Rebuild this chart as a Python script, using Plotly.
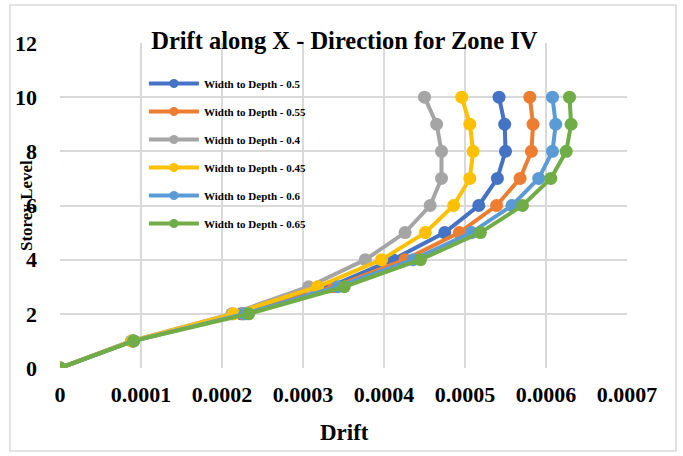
import plotly.graph_objects as go

# Storey levels (0 = base, 10 = roof)
storey_levels = [0, 1, 2, 3, 4, 5, 6, 7, 8, 9, 10]

# Storey drift for each width-to-depth ratio
drift_wd_050 = [0, 0.000090, 0.000224, 0.000333, 0.000411, 0.000475, 0.000517, 0.000540, 0.000550, 0.000549, 0.000542]
drift_wd_055 = [0, 0.000090, 0.000226, 0.000338, 0.000426, 0.000493, 0.000539, 0.000568, 0.000582, 0.000584, 0.000580]
drift_wd_040 = [0, 0.000088, 0.000212, 0.000307, 0.000377, 0.000426, 0.000457, 0.000471, 0.000471, 0.000465, 0.000450]
drift_wd_045 = [0, 0.000089, 0.000214, 0.000318, 0.000397, 0.000451, 0.000486, 0.000506, 0.000510, 0.000506, 0.000496]
drift_wd_060 = [0, 0.000091, 0.000228, 0.000343, 0.000436, 0.000508, 0.000558, 0.000591, 0.000608, 0.000612, 0.000608]
drift_wd_065 = [0, 0.000091, 0.000233, 0.000351, 0.000445, 0.000519, 0.000571, 0.000606, 0.000625, 0.000631, 0.000629]

series_names = [
    "Width to Depth - 0.5",
    "Width to Depth - 0.55",
    "Width to Depth - 0.4",
    "Width to Depth - 0.45",
    "Width to Depth - 0.6",
    "Width to Depth - 0.65",
]
series_values = [drift_wd_050, drift_wd_055, drift_wd_040, drift_wd_045, drift_wd_060, drift_wd_065]
series_colors = ["#4472C4", "#ED7D31", "#A5A5A5", "#FFC000", "#5B9BD5", "#70AD47"]

x_ticks = [0, 0.0001, 0.0002, 0.0003, 0.0004, 0.0005, 0.0006, 0.0007]
x_tick_text = ["0", "0.0001", "0.0002", "0.0003", "0.0004", "0.0005", "0.0006", "0.0007"]
y_ticks = [0, 2, 4, 6, 8, 10, 12]

SERIF = "Liberation Serif"
GRID = "#D9D9D9"

fig = go.Figure()
for i, (name, vals, col) in enumerate(zip(series_names, series_values, series_colors)):
    # plotted series
    fig.add_trace(go.Scatter(
        x=vals, y=storey_levels, name=name, mode="lines+markers",
        line=dict(color=col, width=4),
        marker=dict(color=col, size=13),
        legendgroup=f"g{i}", showlegend=False,
    ))
    # legend key with smaller marker
    fig.add_trace(go.Scatter(
        x=[None], y=[None], name=f"<b>{name}</b>", mode="lines+markers",
        line=dict(color=col, width=4),
        marker=dict(color=col, size=9),
        legendgroup=f"g{i}", showlegend=True, hoverinfo="skip",
    ))

fig.update_layout(
    width=683, height=456,
    margin=dict(l=60, r=56, t=43, b=88),
    paper_bgcolor="white", plot_bgcolor="white",
    font=dict(family=SERIF, color="black"),
    title=dict(
        text="<b>Drift along X - Direction for Zone IV</b>",
        font=dict(family=SERIF, size=24.5, color="black"),
        x=0.5015, xref="paper", xanchor="center",
        y=1 - 40 / 456, yref="container", yanchor="middle",
    ),
    xaxis=dict(
        range=[0, 0.0007], tickvals=x_ticks,
        ticktext=[f"<b>{t}</b>" for t in x_tick_text],
        showgrid=True, gridcolor=GRID, gridwidth=1.5,
        zeroline=False, showline=False, ticks="",
        tickfont=dict(family=SERIF, size=22, color="black"),
        ticklabelstandoff=11,
    ),
    yaxis=dict(
        range=[0, 12], tickvals=y_ticks,
        ticktext=[f"<b>{t}</b>" for t in y_ticks],
        showgrid=True, gridcolor=GRID, gridwidth=1.5,
        zeroline=False, showline=False, ticks="",
        tickfont=dict(family=SERIF, size=22, color="black"),
        ticklabelstandoff=22,
    ),
    legend=dict(
        x=0.148, y=0.92, xanchor="left", yanchor="top",
        bgcolor="rgba(0,0,0,0)",
        font=dict(family=SERIF, size=11, color="black"),
        tracegroupgap=9, itemwidth=50,
    ),
    showlegend=True,
)

# Axis titles
fig.add_annotation(
    text="<b>Drift</b>", xref="paper", yref="paper",
    x=0.5015, y=(368 - 432) / 325, xanchor="center", yanchor="middle",
    showarrow=False, font=dict(family=SERIF, size=23, color="black"),
)
fig.add_annotation(
    text="<b>Storey Level</b>", xref="paper", yref="paper",
    x=(27 - 60) / 567, y=(368 - 206) / 325, xanchor="center", yanchor="middle",
    textangle=-90, showarrow=False,
    font=dict(family=SERIF, size=17, color="black"),
)

# Chart-area border
fig.add_shape(
    type="rect", xref="paper", yref="paper",
    x0=(10 - 60) / 567, x1=(676 - 60) / 567,
    y0=(368 - 451) / 325, y1=(368 - 5) / 325,
    line=dict(color=GRID, width=1.5), fillcolor="rgba(0,0,0,0)", layer="below",
)

fig.write_html("out.html")
